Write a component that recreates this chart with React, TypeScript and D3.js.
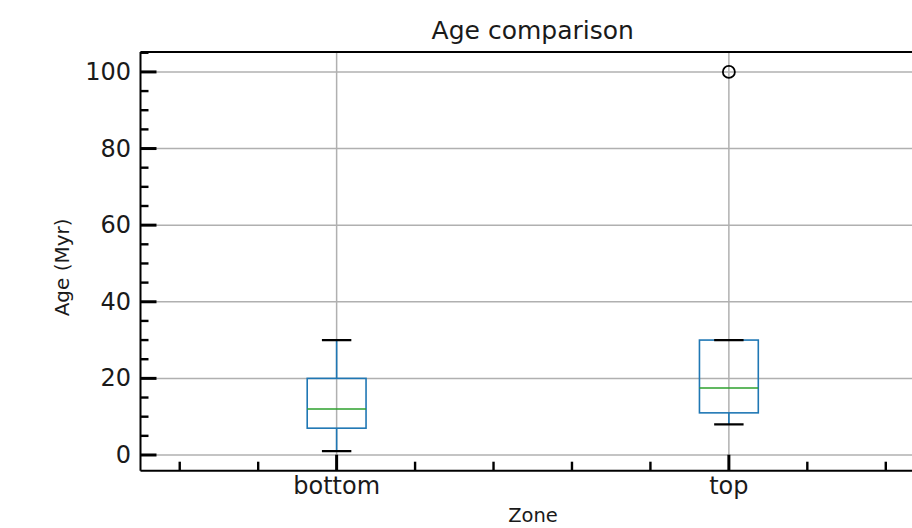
import React from "react";
import * as d3 from "d3";

// ---- data ----
const categories = ["bottom", "top"];
const whiskerLow = [1, 8];
const q1 = [7, 11];
const medians = [12, 17.5];
const q3 = [20, 30];
const whiskerHigh = [30, 30];
const outliers: number[][] = [[], [100]];

const yMajorTicks = [0, 20, 40, 60, 80, 100];
const yMinorTicks = [5, 10, 15, 25, 30, 35, 45, 50, 55, 65, 70, 75, 85, 90, 95, 105];
const xMinorTicks = [0.6, 0.8, 1.2, 1.4, 1.6, 1.8, 2.2, 2.4];

const title = "Age comparison";
const xLabel = "Zone";
const yLabel = "Age (Myr)";

const W = 912;
const H = 528;
const FONT = "DejaVu Sans, sans-serif";

export default function App() {
  const left = 140.5;
  const right = 925;
  const top = 52;
  const bottom = 470.7;

  const x = d3.scaleLinear().domain([0.5, 2.5]).range([left, right]);
  const y = d3.scaleLinear().domain([-4.1, 105.2]).range([bottom, top]);

  const boxW = 0.15;
  const capW = 0.075;

  return (
    <svg
      width={W}
      height={H}
      style={{ position: "absolute", left: 0, top: 0, background: "#fff" }}
      fontFamily={FONT}
    >
      <rect x={0} y={0} width={W} height={H} fill="#fff" />
      <defs>
        <clipPath id="plotclip">
          <rect x={left} y={top} width={right - left} height={bottom - top} />
        </clipPath>
      </defs>
      {/* grid */}
      <g stroke="#b0b0b0" strokeWidth={1.5}>
        {yMajorTicks.map((t) => (
          <line key={"gy" + t} x1={left} x2={right} y1={y(t)} y2={y(t)} />
        ))}
        {categories.map((c, i) => (
          <line key={"gx" + c} x1={x(i + 1)} x2={x(i + 1)} y1={top} y2={bottom} />
        ))}
      </g>
      {/* boxes */}
      <g clipPath="url(#plotclip)">
        {categories.map((c, i) => {
          const cx = x(i + 1);
          const bx0 = x(i + 1 - boxW / 2);
          const bx1 = x(i + 1 + boxW / 2);
          const cx0 = x(i + 1 - capW / 2);
          const cx1 = x(i + 1 + capW / 2);
          return (
            <g key={c}>
              <line x1={cx} x2={cx} y1={y(q1[i])} y2={y(whiskerLow[i])} stroke="#1f77b4" strokeWidth={1.6} />
              <line x1={cx} x2={cx} y1={y(q3[i])} y2={y(whiskerHigh[i])} stroke="#1f77b4" strokeWidth={1.6} />
              <rect
                x={bx0}
                y={y(q3[i])}
                width={bx1 - bx0}
                height={y(q1[i]) - y(q3[i])}
                fill="none"
                stroke="#1f77b4"
                strokeWidth={1.6}
              />
              <line x1={bx0} x2={bx1} y1={y(medians[i])} y2={y(medians[i])} stroke="#2ca02c" strokeWidth={1.6} />
              <line x1={cx0} x2={cx1} y1={y(whiskerLow[i])} y2={y(whiskerLow[i])} stroke="#000" strokeWidth={2.2} />
              <line x1={cx0} x2={cx1} y1={y(whiskerHigh[i])} y2={y(whiskerHigh[i])} stroke="#000" strokeWidth={2.2} />
              {outliers[i].map((v, k) => (
                <circle key={k} cx={cx} cy={y(v)} r={6} fill="none" stroke="#000" strokeWidth={1.8} />
              ))}
            </g>
          );
        })}
      </g>
      {/* ticks */}
      <g stroke="#000">
        {yMajorTicks.map((t) => (
          <line key={"ym" + t} x1={left} x2={left + 16} y1={y(t)} y2={y(t)} strokeWidth={3} />
        ))}
        {yMinorTicks.map((t) => (
          <line key={"yn" + t} x1={left} x2={left + 8} y1={y(t)} y2={y(t)} strokeWidth={2.4} />
        ))}
        {categories.map((c, i) => (
          <line key={"xm" + c} x1={x(i + 1)} x2={x(i + 1)} y1={bottom} y2={bottom - 16} strokeWidth={3} />
        ))}
        {xMinorTicks.map((t) => (
          <line key={"xn" + t} x1={x(t)} x2={x(t)} y1={bottom} y2={bottom - 9} strokeWidth={2.4} />
        ))}
      </g>
      {/* spines */}
      <g stroke="#000" strokeWidth={2}>
        <line x1={left} x2={left} y1={top} y2={bottom} />
        <line x1={left} x2={right} y1={bottom} y2={bottom} />
        <line x1={left} x2={right} y1={top} y2={top} />
      </g>
      {/* tick labels */}
      <g fill="#1a1a1a" fontSize={24}>
        {yMajorTicks.map((t) => (
          <text key={"yl" + t} x={131} y={y(t)} textAnchor="end" dominantBaseline="central">
            {t}
          </text>
        ))}
        {categories.map((c, i) => (
          <text key={"xl" + c} x={x(i + 1)} y={493.5} textAnchor="middle">
            {c}
          </text>
        ))}
      </g>
      <text x={(left + right) / 2} y={39} textAnchor="middle" fontSize={25} fill="#1a1a1a">
        {title}
      </text>
      <text x={533} y={522} textAnchor="middle" fontSize={19.5} fill="#1a1a1a">
        {xLabel}
      </text>
      <text
        transform={`translate(69, ${(top + bottom) / 2 + 6}) rotate(-90)`}
        textAnchor="middle"
        fontSize={20}
        fill="#1a1a1a"
      >
        {yLabel}
      </text>
    </svg>
  );
}
